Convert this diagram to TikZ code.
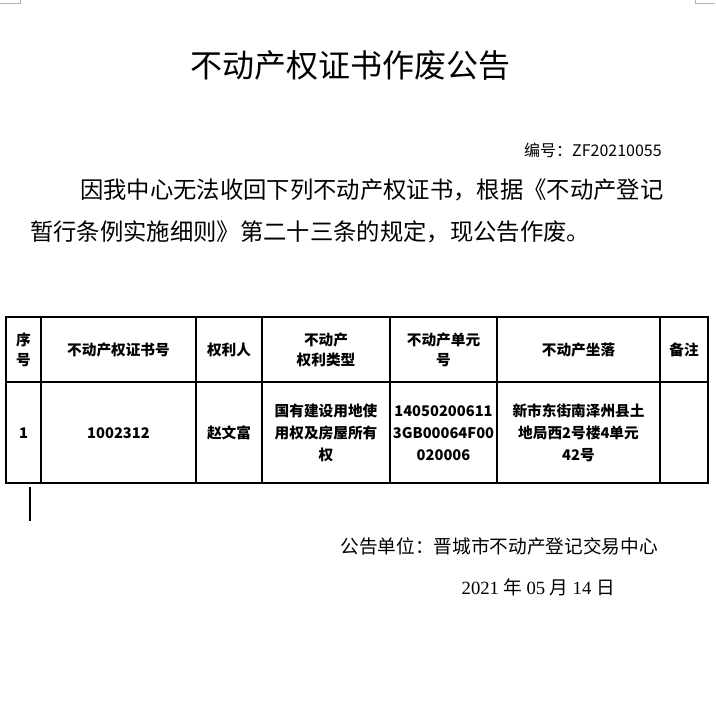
\documentclass[tikz,border=0pt]{standalone}
\usepackage{fontspec}
\setmainfont{Noto Sans CJK SC}
\newfontfamily\lat{Liberation Serif}
\begin{document}
\begin{tikzpicture}[x=0.75pt,y=-0.75pt,
  cell/.style={align=center,font=\fontsize{11}{15}\selectfont\bfseries,inner sep=0pt},
  cell3/.style={align=center,font=\fontsize{11}{16.5}\selectfont\bfseries,inner sep=0pt},
  txt/.style={inner sep=0pt}]
\useasboundingbox[fill=white] (0,0) rectangle (715,725);
% corner marks
\draw[gray!60,line width=0.5pt] (0,3) -- (20,3) -- (20,0);
\draw[gray!60,line width=0.5pt] (715,3) -- (695,3) -- (695,0);
\node[txt,font=\fontsize{24}{28}\selectfont] (title) at (350,65) {不动产权证书作废公告};
\node[txt,anchor=east,font=\fontsize{12}{14}\selectfont] (num) at (662,150) {编号：ZF20210055};
\node[txt,anchor=west,font=\fontsize{17.5}{20}\selectfont] (p1) at (80,190) {因我中心无法收回下列不动产权证书，根据《不动产登记};
\node[txt,anchor=west,font=\fontsize{17.5}{20}\selectfont] (p2) at (30,232) {暂行条例实施细则》第二十三条的规定，现公告作废。};
% table
\draw[line width=0.9pt] (6,317) rectangle (708,483);
\draw[line width=0.9pt] (6,382) -- (708,382);
\foreach \x in {41,196,262,390,497,660} \draw[line width=0.9pt] (\x,317) -- (\x,483);
\node[cell] (h1) at (23.5,350) {序\\号};
\node[cell] (h2) at (118.5,350) {不动产权证书号};
\node[cell] (h3) at (229,350) {权利人};
\node[cell] (h4) at (326,350) {不动产\\权利类型};
\node[cell] (h5) at (443.5,350) {不动产单元\\号};
\node[cell] (h6) at (578.5,350) {不动产坐落};
\node[cell] (h7) at (684,350) {备注};
\node[cell] (d1) at (23.5,433) {1};
\node[cell] (d2) at (118.5,433) {1002312};
\node[cell] (d3) at (229,433) {赵文富};
\node[cell3] (d4) at (326,433) {国有建设用地使\\用权及房屋所有\\权};
\node[cell3] (d5) at (443.5,433) {14050200611\\3GB00064F00\\020006};
\node[cell3] (d6) at (578.5,433) {新市东街南泽州县土\\地局西2号楼4单元\\42号};
% cursor
\draw[line width=1.5pt] (30,487) -- (30,521);
\node[txt,anchor=east,font=\fontsize{14}{16}\selectfont] (unit) at (658,546) {公告单位：晋城市不动产登记交易中心};
\node[txt,anchor=east,font=\fontsize{14}{16}\selectfont] (date) at (615,587) {\lat 2021 \rmfamily 年 \lat 05 \rmfamily 月 \lat 14 \rmfamily 日};
\end{tikzpicture}
\end{document}
